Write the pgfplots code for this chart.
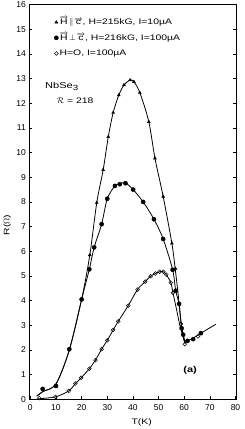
\documentclass[border=0pt]{standalone}
\usepackage{pgfplots}
\pgfplotsset{compat=1.18}
\usepackage{fontspec}
\setmainfont{Liberation Sans}
\newfontfamily\leroy[FakeStretch=1.3]{Liberation Sans}
\newcommand{\vecH}{\overrightarrow{\mbox{H}}}
\newcommand{\vecc}{\overrightarrow{\mbox{c}}}
\begin{document}
\begin{tikzpicture}
\begin{axis}[
  at={(0,0)}, anchor=south west,
  scale only axis,
  width=206.7pt, height=394.7pt,
  xmin=-0.4, xmax=80.2, ymin=0, ymax=16,
  xtick={0,10,...,80}, ytick={0,1,...,16},
  tick align=inside,
  xtick pos=bottom, ytick pos=both, yticklabel pos=left,
  major tick length=3pt,
  tick style={black, line width=0.5pt},
  axis line style={line width=0.6pt},
  /pgf/number format/assume math mode=true,
  ticklabel style={font=\fontsize{8.5}{9}\selectfont},
  xticklabel style={yshift=-1.7pt},
  xlabel={T(K)}, ylabel={R($\Omega$)},
  label style={font=\leroy\fontsize{8}{9}\selectfont},
  xlabel style={at={(axis description cs:0.544,-0.0593)}, anchor=center},
  ylabel style={at={(axis description cs:-0.107,0.442)}, anchor=center},
  legend style={draw=none, fill=none, at={(axis description cs:0.1195,0.965)}, anchor=north west,
    inner sep=0pt, row sep=8.3pt,
    nodes={text height=5.8pt, text depth=1.5pt, inner xsep=1.2pt, inner ysep=0pt},
    font=\leroy\fontsize{8}{8.5}\selectfont},
  legend cell align=left,
  legend image code/.code={\draw[#1] plot coordinates {(0cm,0cm)};},
]
% --- curves (lines) ---
\addplot[black, line width=0.8pt, smooth, forget plot] coordinates {
(2.5,0.13)(5,0.32)(10,0.62)(15.2,2.0)(20,4.05)(23.2,5.85)(25.9,7.97)(28.4,9.3)(30.4,10.64)(32.3,11.62)(34.5,12.33)(36.5,12.74)(38.9,12.94)(40.4,12.87)(42.7,12.43)(46.2,11.25)(48.6,9.77)(51.8,8.22)(55.2,6.32)(56.5,5.28)(57.6,4.3)(58.8,3.1)(60.3,2.3)};
\addplot[black, line width=0.8pt, smooth, forget plot] coordinates {
(2.5,0.13)(5,0.32)(10,0.62)(15.2,2.0)(20,4.05)(23,5.27)(24.9,6.16)(27.8,7.1)(30,8.13)(33,8.65)(35,8.74)(37.1,8.77)(40.1,8.5)(44,8.0)(48.2,7.3)(51.8,6.5)(55.5,5.25)(56.7,4.4)(58,3.85)(59,2.9)(60.3,2.3)};
\addplot[black, line width=0.8pt, forget plot] coordinates {
(60.3,2.3)(61.3,2.37)(63.5,2.48)(66.5,2.68)(72.3,3.04)};
\addplot[black, line width=0.8pt, smooth, forget plot] coordinates {
(3,0.02)(9.8,0.1)(15,0.34)(17.6,0.64)(19.8,0.87)(23,1.24)(25.4,1.59)(27.8,2.03)(30,2.39)(32.3,2.81)(34.3,3.16)(38.2,3.8)(41.8,4.45)(44.8,4.77)(46.9,4.99)(48.8,5.1)(50.4,5.17)(51.9,5.17)(53,5.05)(54.8,4.73)(55.6,4.32)(56.8,3.75)(58.2,3.05)(59.1,2.7)(60.3,2.25)};
% --- markers ---
\addplot[only marks, mark=triangle*, mark size=1.7pt, black] coordinates {
(23.2,5.85)(25.9,7.97)(28.4,9.3)(30.4,10.64)(32.3,11.62)(34.5,12.33)(36.5,12.74)(38.9,12.94)(40.4,12.87)(42.7,12.43)(46.2,11.25)(48.6,9.77)(51.8,8.22)(55.2,6.32)(56.6,5.3)};
\addlegendentry{$\vecH\!\parallel\!\vecc$, H=215kG, I=10µA}
\addplot[only marks, mark=*, mark size=2.1pt, black] coordinates {
(4.8,0.42)(10,0.54)(15.2,2.03)(20,4.05)(23,5.27)(24.9,6.16)(27.8,7.1)(30,8.13)(33,8.65)(34.9,8.72)(37.1,8.76)(40.1,8.5)(44,8.0)(48.2,7.3)(51.8,6.5)(55.5,5.25)(56.7,4.4)(58,3.87)(59,2.88)(59.6,2.62)(61.3,2.37)(63.5,2.44)(66.5,2.68)};
\addlegendentry{$\vecH\!\perp\!\vecc$, H=216kG, I=100µA}
\addplot[only marks, mark=o, mark size=1.9pt, black, line width=0.5pt, mark options={fill=white}] coordinates {
(3.5,0.05)(9.8,0.1)(15,0.34)(17.6,0.64)(19.8,0.87)(23,1.24)(25.4,1.59)(27.8,2.03)(30,2.39)(32.3,2.81)(34.3,3.16)(38.2,3.8)(41.8,4.45)(44.8,4.77)(46.9,4.99)(48.8,5.1)(50.4,5.17)(51.9,5.17)(53,5.05)(54.8,4.73)(55.6,4.32)(58.7,3.05)(60.2,2.24)(65.4,2.55)};
\addlegendentry{H=O, I=100µA}
% --- annotations ---
\node[anchor=base west, font=\leroy\fontsize{8.5}{9}\selectfont, inner sep=0pt] at (axis cs:5.7,12.6) {NbSe$_{\mbox{\fontsize{7.5}{8}\selectfont 3}}$};
\node[anchor=base west, font=\leroy\fontsize{8}{9}\selectfont, inner sep=0pt] at (axis cs:10.3,12.0) {$\mathcal{R}$ = 218};
\node[anchor=center, font=\leroy\bfseries\fontsize{8.5}{9}\selectfont, inner sep=0pt] at (axis cs:62.3,1.16) {(a)};
\end{axis}
\pgfresetboundingbox
\path (-29.3pt,-29.7pt) rectangle (215.7pt,399.3pt);
\end{tikzpicture}
\end{document}
